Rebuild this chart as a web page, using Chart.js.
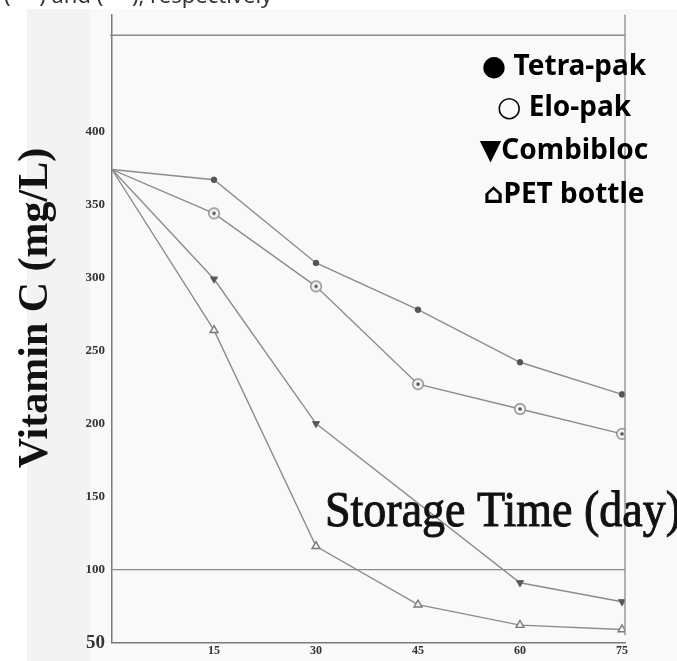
<!DOCTYPE html>
<html>
<head>
<meta charset="utf-8">
<script src="https://cdn.jsdelivr.net/npm/chart.js@4.4.1/dist/chart.umd.min.js"></script>
<style>
  html, body { margin: 0; padding: 0; background: #ffffff; }
  #wrap { position: relative; width: 677px; height: 661px; }
</style>
</head>
<body>
<div id="wrap"><canvas id="c" width="677" height="661"></canvas></div>
<script>
const days = [0, 15, 30, 45, 60, 75];
const xTicks = [15, 30, 45, 60, 75];
const yTicks = [50, 100, 150, 200, 250, 300, 350, 400];
const seriesNames = ['Tetra-pak', 'Elo-pak', 'Combibloc', 'PET bottle'];
const legendSymbols = ['\u25CF ', '\u25CB ', '\u25BC', '\u2302'];
const tetraPak = [374, 367, 310, 278, 242, 220];
const eloPak = [374, 344, 294, 227, 210, 193];
const combibloc = [374, 299, 200, null, 91, 78];
const petBottle = [374, 264, 116, 76, 62, 59];
const yTitle = 'Vitamin C (mg/L)';
const xTitle = 'Storage Time (day)';
const topCaption = '(     ) and (     ), respectively';

// custom marker for Elo-pak: ring with centre dot
const eloMarker = document.createElement('canvas');
eloMarker.width = 14; eloMarker.height = 14;
(function () {
  const g = eloMarker.getContext('2d');
  g.fillStyle = '#f4f4f4';
  g.strokeStyle = '#8a8a8a';
  g.lineWidth = 1.4;
  g.beginPath(); g.arc(7, 7, 5.3, 0, Math.PI * 2); g.fill(); g.stroke();
  g.fillStyle = '#555';
  g.beginPath(); g.arc(7, 7, 1.8, 0, Math.PI * 2); g.fill();
})();

function pts(arr) { return arr.map((v, i) => ({ x: days[i], y: v })); }
function radii(r) { return days.map((d, i) => i === 0 ? 0 : r); }

const lineColor = '#8c8c8c';

const paperPlugin = {
  id: 'paper',
  beforeDraw(chart) {
    const ctx = chart.ctx;
    ctx.save();
    ctx.fillStyle = '#ffffff';
    ctx.fillRect(0, 0, chart.width, chart.height);
    ctx.fillStyle = '#f3f3f3';
    ctx.fillRect(27, 9, chart.width - 27, chart.height - 9);
    ctx.fillStyle = '#f9f9f9';
    ctx.fillRect(90, 9, chart.width - 90, chart.height - 9);
    // cut caption at very top
    ctx.fillStyle = '#333';
    ctx.font = '22px "Noto Sans", sans-serif';
    ctx.textBaseline = 'alphabetic';
    ctx.textAlign = 'left';
    ctx.fillText(topCaption, 4, 3);
    ctx.restore();
  },
  afterDatasetsDraw(chart) {
    const ctx = chart.ctx;
    const ca = chart.chartArea;
    const ys = chart.scales.y;
    ctx.save();
    ctx.strokeStyle = '#8a8a8a';
    ctx.lineWidth = 1.3;
    // top frame line
    const yTop = ys.getPixelForValue(466);
    ctx.beginPath(); ctx.moveTo(110, yTop); ctx.lineTo(ca.right, yTop); ctx.stroke();
    // right frame line
    ctx.beginPath(); ctx.moveTo(ca.right, ca.top); ctx.lineTo(ca.right, ys.getPixelForValue(55)); ctx.stroke();
    ctx.restore();
  },
  afterDraw(chart) {
    const ctx = chart.ctx;
    ctx.save();
    // y title
    ctx.fillStyle = '#111';
    ctx.translate(36, 308);
    ctx.rotate(-Math.PI / 2);
    ctx.font = 'bold 42px "Liberation Serif", serif';
    ctx.textAlign = 'center';
    ctx.textBaseline = 'middle';
    ctx.fillText(yTitle, 0, 0);
    ctx.restore();

    ctx.save();
    ctx.fillStyle = '#111';
    ctx.strokeStyle = '#111';
    ctx.lineWidth = 0.9;
    ctx.font = '46px "Liberation Serif", serif';
    ctx.textAlign = 'left';
    ctx.textBaseline = 'alphabetic';
    ctx.translate(325, 526);
    ctx.scale(1, 1.12);
    ctx.fillText(xTitle, 0, 0);
    ctx.strokeText(xTitle, 0, 0);
    ctx.restore();

    // legend text
    ctx.save();
    ctx.fillStyle = '#000';
    ctx.font = 'bold 28px "Noto Sans", "DejaVu Sans", sans-serif';
    ctx.textAlign = 'center';
    ctx.textBaseline = 'alphabetic';
    const baselines = [75, 116, 159, 203];
    seriesNames.forEach((n, i) => {
      ctx.fillText(legendSymbols[i] + n, 564, baselines[i]);
    });
    ctx.restore();
  }
};

new Chart(document.getElementById('c'), {
  type: 'line',
  data: {
    datasets: [
      {
        label: seriesNames[0], data: pts(tetraPak),
        borderColor: lineColor, borderWidth: 1.4,
        pointStyle: 'circle', pointRadius: radii(2.8),
        pointBackgroundColor: '#555', pointBorderColor: '#555', pointBorderWidth: 1,
        tension: 0
      },
      {
        label: seriesNames[1], data: pts(eloPak),
        borderColor: lineColor, borderWidth: 1.4,
        pointStyle: eloMarker, pointRadius: radii(6),
        tension: 0
      },
      {
        label: seriesNames[2], data: pts(combibloc),
        borderColor: lineColor, borderWidth: 1.4, spanGaps: true,
        pointStyle: 'triangle', rotation: 180, pointRadius: radii(4.2),
        pointBackgroundColor: '#555', pointBorderColor: '#666', pointBorderWidth: 1,
        tension: 0
      },
      {
        label: seriesNames[3], data: pts(petBottle),
        borderColor: lineColor, borderWidth: 1.4,
        pointStyle: 'triangle', pointRadius: radii(4.6),
        pointBackgroundColor: '#f4f4f4', pointBorderColor: '#7a7a7a', pointBorderWidth: 1.4,
        tension: 0
      }
    ]
  },
  options: {
    responsive: false,
    animation: false,
    events: [],
    layout: { padding: { top: 10, right: 52, left: 0, bottom: 0 } },
    plugins: { legend: { display: false }, tooltip: { enabled: false } },
    scales: {
      x: {
        type: 'linear', min: 0, max: 75.44,
        afterBuildTicks(s) { s.ticks = xTicks.map(v => ({ value: v })); },
        afterFit(s) { s.height = 18; },
        grid: { display: false, drawTicks: false },
        border: { display: true, color: '#7a7a7a', width: 1.5 },
        ticks: {
          padding: 1, color: '#333',
          font: { family: '"Liberation Serif", serif', size: 12, weight: 'bold' },
          maxRotation: 0
        }
      },
      y: {
        type: 'linear', min: 50, max: 480,
        afterBuildTicks(s) { s.ticks = yTicks.map(v => ({ value: v })); },
        afterFit(s) { s.width = 112; },
        grid: {
          drawTicks: false,
          color: (c) => (c.tick && c.tick.value === 100) ? '#8a8a8a' : 'rgba(0,0,0,0)',
          lineWidth: 1.3
        },
        border: { display: true, color: '#7a7a7a', width: 1.5 },
        ticks: {
          padding: 7, color: '#333',
          font: (c) => (c.tick && c.tick.value === 50)
            ? { family: '"Liberation Serif", serif', size: 19, weight: 'bold' }
            : { family: '"Liberation Serif", serif', size: 13, weight: 'bold' }
        }
      }
    }
  },
  plugins: [paperPlugin]
});
</script>
</body>
</html>
